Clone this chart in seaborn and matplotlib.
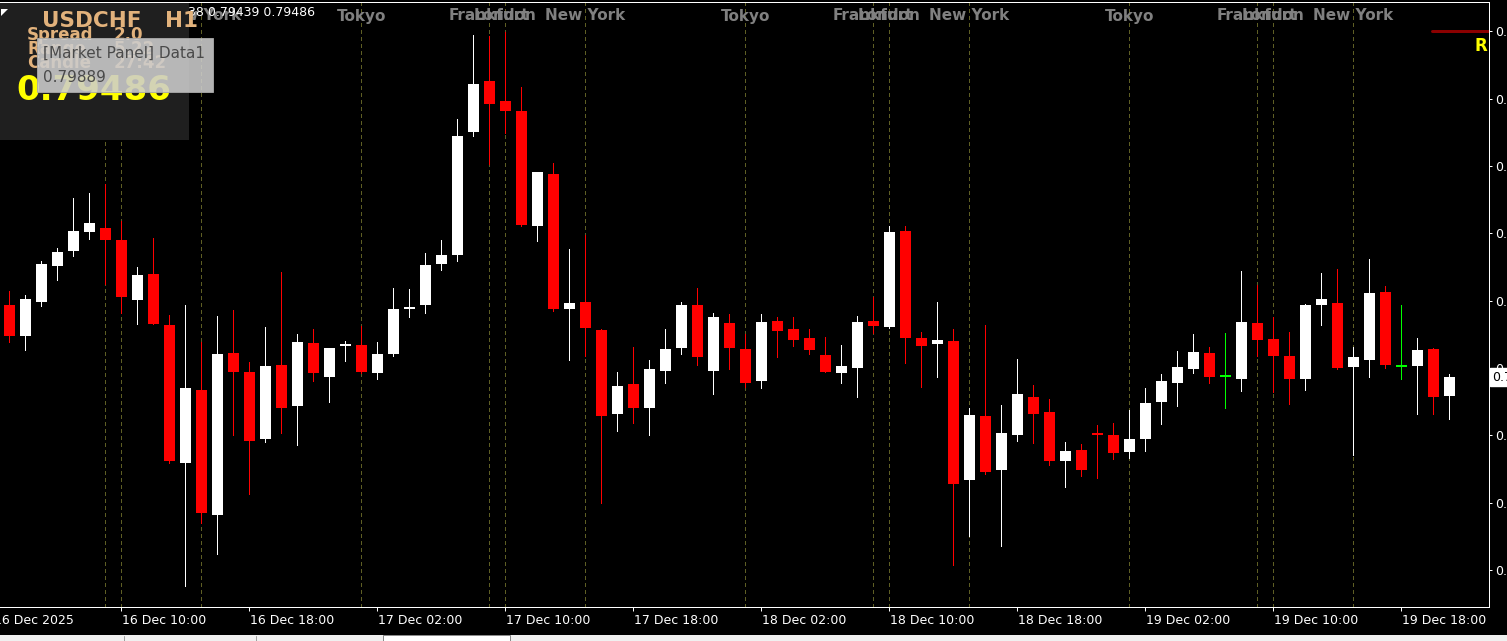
import numpy as np
import pandas as pd
import matplotlib
matplotlib.use("Agg")
import matplotlib.pyplot as plt
import matplotlib.transforms as mtransforms
from matplotlib.patches import Rectangle, Polygon
from matplotlib.lines import Line2D
import seaborn as sns

# ---------------- data ----------------
symbol = "USDCHF"
timeframe = "H1"
start_time = "2025-12-16 03:00"

opens = [0.79594, 0.79548, 0.79598, 0.79652, 0.79673, 0.79702, 0.79708, 0.79690, 0.79601, 0.79640,
         0.79564, 0.79359, 0.79467, 0.79282, 0.79522, 0.79494, 0.79394, 0.79504, 0.79444, 0.79537,
         0.79487, 0.79533, 0.79534, 0.79493, 0.79521, 0.79588, 0.79593, 0.79654, 0.79668, 0.79850,
         0.79926, 0.79896, 0.79881, 0.79711, 0.79788, 0.79587, 0.79598, 0.79556, 0.79431, 0.79476,
         0.79440, 0.79496, 0.79529, 0.79594, 0.79496, 0.79567, 0.79528, 0.79480, 0.79570, 0.79558,
         0.79545, 0.79519, 0.79492, 0.79500, 0.79570, 0.79561, 0.79703, 0.79545, 0.79536, 0.79540,
         0.79333, 0.79429, 0.79348, 0.79401, 0.79457, 0.79435, 0.79362, 0.79378, 0.79404, 0.79401,
         0.79376, 0.79395, 0.79449, 0.79478, 0.79499, 0.79522, 0.79488, 0.79484, 0.79567, 0.79543,
         0.79518, 0.79483, 0.79594, 0.79597, 0.79502, 0.79512, 0.79613, 0.79503, 0.79503, 0.79528,
         0.79459]
highs = [0.79614, 0.79608, 0.79659, 0.79678, 0.79752, 0.79760, 0.79773, 0.79718, 0.79650, 0.79693,
         0.79578, 0.79594, 0.79538, 0.79577, 0.79586, 0.79509, 0.79561, 0.79642, 0.79550, 0.79558,
         0.79530, 0.79540, 0.79563, 0.79538, 0.79619, 0.79617, 0.79671, 0.79690, 0.79870, 0.79994,
         0.79993, 0.79999, 0.79917, 0.79791, 0.79805, 0.79677, 0.79697, 0.79558, 0.79494, 0.79531,
         0.79512, 0.79558, 0.79598, 0.79619, 0.79582, 0.79580, 0.79550, 0.79580, 0.79576, 0.79576,
         0.79558, 0.79546, 0.79534, 0.79577, 0.79605, 0.79711, 0.79711, 0.79553, 0.79598, 0.79558,
         0.79441, 0.79564, 0.79445, 0.79513, 0.79475, 0.79454, 0.79390, 0.79387, 0.79415, 0.79418,
         0.79438, 0.79470, 0.79491, 0.79525, 0.79550, 0.79531, 0.79552, 0.79644, 0.79623, 0.79576,
         0.79553, 0.79595, 0.79641, 0.79647, 0.79531, 0.79662, 0.79622, 0.79594, 0.79545, 0.79530,
         0.79491]
lows = [0.79539, 0.79526, 0.79592, 0.79630, 0.79667, 0.79692, 0.79625, 0.79581, 0.79566, 0.79565,
        0.79359, 0.79177, 0.79270, 0.79224, 0.79400, 0.79313, 0.79390, 0.79403, 0.79385, 0.79480,
        0.79450, 0.79511, 0.79493, 0.79484, 0.79518, 0.79576, 0.79582, 0.79645, 0.79659, 0.79844,
        0.79803, 0.79849, 0.79711, 0.79689, 0.79585, 0.79512, 0.79518, 0.79300, 0.79407, 0.79419,
        0.79401, 0.79477, 0.79521, 0.79505, 0.79461, 0.79498, 0.79472, 0.79471, 0.79517, 0.79533,
        0.79521, 0.79494, 0.79478, 0.79457, 0.79552, 0.79560, 0.79508, 0.79472, 0.79486, 0.79208,
        0.79250, 0.79343, 0.79236, 0.79391, 0.79388, 0.79356, 0.79324, 0.79340, 0.79336, 0.79365,
        0.79367, 0.79377, 0.79417, 0.79444, 0.79492, 0.79477, 0.79441, 0.79466, 0.79518, 0.79465,
        0.79447, 0.79468, 0.79564, 0.79498, 0.79371, 0.79486, 0.79500, 0.79484, 0.79431, 0.79431,
        0.79425]
closes = [0.79548, 0.79602, 0.79654, 0.79672, 0.79703, 0.79715, 0.79690, 0.79606, 0.79638, 0.79566,
          0.79362, 0.79470, 0.79284, 0.79521, 0.79494, 0.79392, 0.79503, 0.79441, 0.79538, 0.79492,
          0.79530, 0.79536, 0.79494, 0.79521, 0.79588, 0.79591, 0.79653, 0.79668, 0.79844, 0.79922,
          0.79892, 0.79881, 0.79713, 0.79791, 0.79588, 0.79597, 0.79559, 0.79429, 0.79473, 0.79441,
          0.79499, 0.79528, 0.79594, 0.79517, 0.79576, 0.79529, 0.79478, 0.79568, 0.79555, 0.79542,
          0.79526, 0.79494, 0.79503, 0.79568, 0.79563, 0.79702, 0.79545, 0.79533, 0.79542, 0.79328,
          0.79430, 0.79346, 0.79404, 0.79461, 0.79431, 0.79362, 0.79377, 0.79349, 0.79401, 0.79374,
          0.79395, 0.79448, 0.79481, 0.79501, 0.79524, 0.79486, 0.79488, 0.79568, 0.79541, 0.79518,
          0.79484, 0.79594, 0.79602, 0.79500, 0.79516, 0.79611, 0.79505, 0.79503, 0.79527, 0.79457,
          0.79486]

tick_times = ["2025-12-16 02:00", "2025-12-16 10:00", "2025-12-16 18:00", "2025-12-17 02:00",
              "2025-12-17 10:00", "2025-12-17 18:00", "2025-12-18 02:00", "2025-12-18 10:00",
              "2025-12-18 18:00", "2025-12-19 02:00", "2025-12-19 10:00", "2025-12-19 18:00"]
tick_labels = ["16 Dec 2025", "16 Dec 10:00", "16 Dec 18:00", "17 Dec 02:00", "17 Dec 10:00",
               "17 Dec 18:00", "18 Dec 02:00", "18 Dec 10:00", "18 Dec 18:00", "19 Dec 02:00",
               "19 Dec 10:00", "19 Dec 18:00"]
price_ticks = [0.7920, 0.7930, 0.7940, 0.7950, 0.7960, 0.7970, 0.7980, 0.7990, 0.8000]

session_names = ["Tokyo", "Frankfurt", "London", "New York"]
session_hours = [1, 9, 10, 15]
session_days = ["2025-12-16", "2025-12-17", "2025-12-18", "2025-12-19"]

current_price = 0.79486
resistance_level = 0.80000
data_line = "38 0.79439 0.79486"
panel_rows = [("Spread", "2.0"), ("Range", "5.22"), ("Candle", "27:42")]
tooltip_title = "[Market Panel] Data1"
tooltip_value = "0.79889"

# ---------------- style ----------------
sns.set_theme(style="dark", rc={
    "axes.facecolor": "black", "figure.facecolor": "black",
    "axes.edgecolor": "white", "axes.grid": False,
    "xtick.color": "white", "ytick.color": "white",
})
plt.rcParams["font.family"] = ["DejaVu Sans"]

W, H = 1507, 641
PX = 72 / 100.0  # one pixel in points


def fx(x):
    return x / W


def fy(y):
    return 1 - y / H


fig = plt.figure(figsize=(W / 100, H / 100), dpi=100)
fig.patch.set_facecolor("black")
ax_top, ax_bot, ax_right = 2, 607, 1489
ax = fig.add_axes([0, fy(ax_bot), ax_right / W, (ax_bot - ax_top) / H])
ax.set_facecolor("black")

df = pd.DataFrame({"time": pd.date_range(start_time, periods=len(opens), freq="h"),
                   "open": opens, "high": highs, "low": lows, "close": closes})
t0 = df["time"].iloc[0]
df["pos"] = np.arange(len(df))

# axis limits: 16 px per candle, first candle centred 9.33 px from the left edge
spacing = 16.0
xmin = -9.33 / spacing
xmax = (ax_right - 9.33) / spacing
px_per_price = 67350.0
ymin = 0.7950 - (ax_bot - 368) / px_per_price
ymax = 0.7950 + (368 - ax_top) / px_per_price
ax.set_xlim(xmin, xmax)
ax.set_ylim(ymin, ymax)

# session separators and labels
trans_xa = mtransforms.blended_transform_factory(ax.transData, ax.transAxes)
for d in session_days:
    for name, hr in zip(session_names, session_hours):
        pos = (pd.Timestamp(d) + pd.Timedelta(hours=hr) - t0) / pd.Timedelta(hours=1)
        if xmin <= pos <= xmax:
            ax.axvline(pos, color="#5e5e24", lw=PX, ls=(0, (3, 3)), zorder=1,
                       antialiased=False)
            ax.text(pos, (ax_bot - 16) / (ax_bot - ax_top), name, transform=trans_xa,
                    ha="center", va="center", color="#808080", fontsize=11,
                    fontweight="bold", zorder=2)

# candles
min_h = 1.2 / px_per_price
body_w = 11 / spacing
for _, r in df.iterrows():
    if r.close > r.open:
        col = "white"
    elif r.close < r.open:
        col = "#ff0000"
    else:
        col = "#00ff00"
    ax.vlines(r.pos, r.low, r.high, color=col, lw=PX, zorder=3, antialiased=False)
    lo = min(r.open, r.close)
    hgt = max(abs(r.close - r.open), min_h)
    if r.close == r.open:
        lo = r.open - min_h / 2
    ax.bar(r.pos, hgt, bottom=lo, width=body_w, color=col, linewidth=0, zorder=4,
           antialiased=False)

# resistance marker top right
ax.axhline(resistance_level, xmin=1432 / ax_right, xmax=1.0, color="#8b0000", lw=3 * PX, zorder=5)
ax.annotate("R", xy=(1.0, resistance_level), xycoords=("axes fraction", "data"),
            xytext=(-14, -15), textcoords="offset pixels", ha="left", va="center",
            color="#ffff00", fontsize=12, fontweight="bold", annotation_clip=False, zorder=6)

# spines
ax.spines["left"].set_visible(False)
for s in ["top", "right", "bottom"]:
    ax.spines[s].set_visible(True)
    ax.spines[s].set_color("white")
    ax.spines[s].set_linewidth(PX)

# y axis on the right (labels clipped by figure edge like the original)
ax.yaxis.tick_right()
ax.set_yticks(price_ticks)
ax.set_yticklabels([f"{p:.4f}" for p in price_ticks])
ax.tick_params(axis="y", direction="out", length=3 * PX, width=PX, pad=2,
               labelsize=9, colors="white", left=False, right=True)

# x axis ticks + labels
tick_pos = [(pd.Timestamp(t) - t0) / pd.Timedelta(hours=1) for t in tick_times]
vis_ticks = [p for p in tick_pos if xmin <= p <= xmax]
ax.set_xticks(vis_ticks)
ax.set_xticklabels([""] * len(vis_ticks))
ax.tick_params(axis="x", direction="out", length=4 * PX, width=PX, colors="white",
               bottom=True, pad=0)
for p, lab in zip(tick_pos, tick_labels):
    ax.text(p + 0.5 / spacing, -13 / (ax_bot - ax_top), lab, transform=trans_xa,
            ha="left", va="center", color="white", fontsize=9, clip_on=False)

# current price tag
ax.annotate(f"{current_price:.5f}", xy=(1.0, current_price), xycoords=("axes fraction", "data"),
            xytext=(3, 0), textcoords="offset pixels", ha="left", va="center",
            color="black", fontsize=9, annotation_clip=False, zorder=10,
            bbox=dict(boxstyle="square,pad=0.2", fc="white", ec="white"))

# data line text
fig.text(fx(188), fy(12), data_line, color="white", fontsize=9, ha="left", va="center", zorder=4)

# top-left market panel
fig.add_artist(Rectangle((0, fy(140)), fx(189), fy(3) - fy(140), transform=fig.transFigure,
                         facecolor="#1f1f1f", edgecolor="none", zorder=5))
fig.add_artist(Polygon([(fx(1), fy(9)), (fx(8), fy(9)), (fx(1), fy(16))], closed=True,
                       transform=fig.transFigure, facecolor="white", edgecolor="none", zorder=6))
tan = "#e2b27c"
fig.text(fx(42), fy(21), symbol, color=tan, fontsize=15.5, fontweight="bold",
         ha="left", va="center", zorder=7)
fig.text(fx(165), fy(21), timeframe, color=tan, fontsize=15.5, fontweight="bold",
         ha="left", va="center", zorder=7)
for i, (lab, val) in enumerate(panel_rows):
    yy = 35 + 14 * i
    fig.text(fx(27), fy(yy), lab, color=tan, fontsize=12, fontweight="bold",
             ha="left", va="center", zorder=7)
    fig.text(fx(114), fy(yy), val, color=tan, fontsize=12, fontweight="bold",
             ha="left", va="center", zorder=7)
fig.text(fx(16), fy(90), f"{current_price:.5f}", color="#ffff00", fontsize=24.5,
         fontweight="bold", ha="left", va="center", zorder=7)

# tooltip
fig.add_artist(Rectangle((fx(37), fy(92)), fx(213) - fx(37), fy(38) - fy(92),
                         transform=fig.transFigure, facecolor="#cdcdcd", alpha=0.88,
                         edgecolor="#a8a8a8", lw=PX, zorder=8))
fig.text(fx(43), fy(53), tooltip_title, color="#4a4a4a", fontsize=11,
         ha="left", va="center", zorder=9)
fig.text(fx(43), fy(78), tooltip_value, color="#4a4a4a", fontsize=11,
         ha="left", va="center", zorder=9)

# bottom tab strip
fig.add_artist(Rectangle((0, 0), 1, fy(635), transform=fig.transFigure,
                         facecolor="#f0f0f0", edgecolor="none", zorder=5))
fig.add_artist(Rectangle((fx(383), 0), fx(510) - fx(383), fy(635), transform=fig.transFigure,
                         facecolor="white", edgecolor="#8a8a8a", lw=PX, zorder=6))
for xx in [124, 256]:
    fig.add_artist(Line2D([fx(xx), fx(xx)], [0, fy(636)], transform=fig.transFigure,
                          color="#a0a0a0", lw=PX, zorder=6))

fig.savefig("out.png", dpi=100, facecolor="black")
